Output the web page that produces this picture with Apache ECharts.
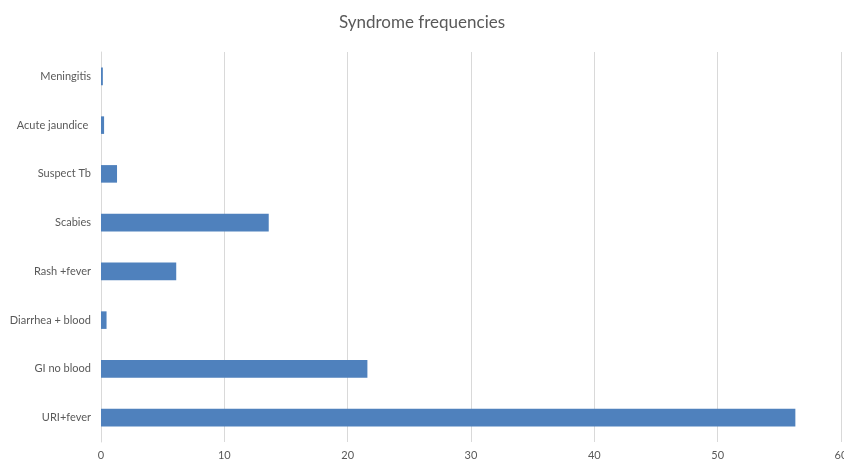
<!DOCTYPE html>
<html>
<head>
<meta charset="utf-8">
<script src="https://cdn.jsdelivr.net/npm/echarts@6/dist/echarts.min.js"></script>
<style>
  html, body { margin: 0; padding: 0; background: #ffffff; }
  #chart { width: 844px; height: 464px; }
</style>
</head>
<body>
<div id="chart"></div>
<script>
// Syndrome categories, listed bottom to top as the y axis draws them
const categories = ['URI+fever', 'GI no blood', 'Diarrhea + blood', 'Rash +fever', 'Scabies', 'Suspect Tb', 'Acute jaundice ', 'Meningitis'];
const frequencies = [56.3, 21.6, 0.45, 6.1, 13.6, 1.3, 0.25, 0.15];
const xTicks = [0, 10, 20, 30, 40, 50, 60];

const chart = echarts.init(document.getElementById('chart'));
chart.setOption({
  animation: false,
  backgroundColor: '#ffffff',
  title: {
    text: 'Syndrome frequencies',
    left: 'center',
    top: 9,
    textStyle: { fontFamily: 'Lato', fontSize: 17, fontWeight: 'normal', color: '#595959' }
  },
  grid: { left: 101, right: 3, top: 52, bottom: 22, containLabel: false, outerBoundsMode: 'none' },
  xAxis: {
    type: 'value',
    min: xTicks[0],
    max: xTicks[xTicks.length - 1],
    interval: 10,
    axisLine: { show: false },
    axisTick: { show: false },
    axisLabel: { fontFamily: 'Lato', fontSize: 11, color: '#595959', margin: 8 },
    splitLine: { show: true, lineStyle: { color: '#d9d9d9', width: 1 } }
  },
  yAxis: {
    type: 'category',
    data: categories,
    axisLine: { show: true, lineStyle: { color: '#d9d9d9' } },
    axisTick: { show: false },
    axisLabel: { fontFamily: 'Lato', fontSize: 11, color: '#595959', margin: 10 }
  },
  series: [{
    type: 'bar',
    data: frequencies,
    barWidth: '36%',
    itemStyle: { color: '#4f81bd' }
  }]
});
</script>
</body>
</html>
